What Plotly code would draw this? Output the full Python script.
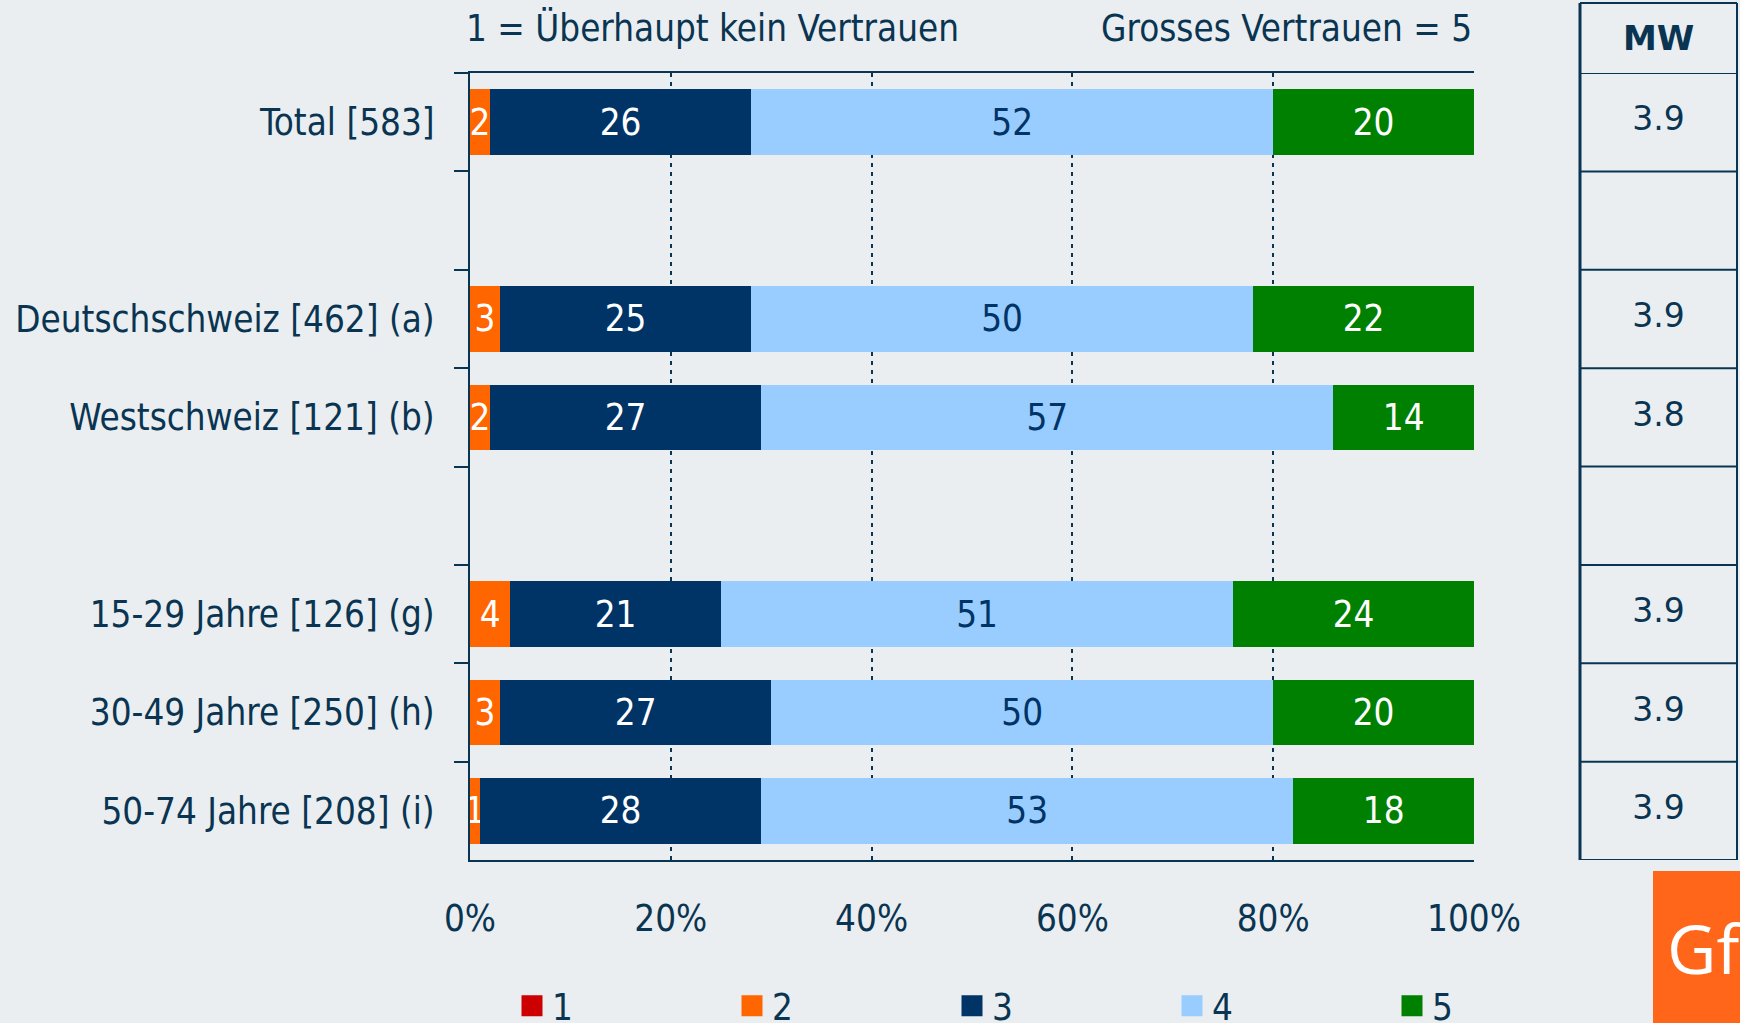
import plotly.graph_objects as go

# ---------------- data ----------------
categories = ["Total [583]", " ", "Deutschschweiz [462] (a)", "Westschweiz [121] (b)", "  ",
              "15-29 Jahre [126] (g)", "30-49 Jahre [250] (h)", "50-74 Jahre [208] (i)"]
rows = ["Total [583]", "Deutschschweiz [462] (a)", "Westschweiz [121] (b)",
        "15-29 Jahre [126] (g)", "30-49 Jahre [250] (h)", "50-74 Jahre [208] (i)"]
series_names = ["1", "2", "3", "4", "5"]
s1 = [0, 0, 0, 0, 0, 0]
s2 = [2, 3, 2, 4, 3, 1]
s3 = [26, 25, 27, 21, 27, 28]
s4 = [52, 50, 57, 51, 50, 53]
s5 = [20, 22, 14, 24, 20, 18]
mw_values = ["3.9", "3.9", "3.8", "3.9", "3.9", "3.9"]
x_ticks = [0, 20, 40, 60, 80, 100]
x_ticktext = ["0%", "20%", "40%", "60%", "80%", "100%"]
title_left = "1 = Überhaupt kein Vertrauen"
title_right = "Grosses Vertrauen = 5"
mw_header = "MW"

# ---------------- style ----------------
colors = ["#CC0000", "#FF6600", "#003366", "#99CCFF", "#008000"]
label_colors = ["white", "white", "white", "#003366", "white"]
NAVY = "#0A3552"
BG = "#EAEEF0"
FONT = "DejaVu Sans Condensed"
FS = 36.5

W, H = 1740, 1023
ML, MR, MT, MB = 470, 2, 73, 163
PW = W - ML - MR
PH = H - MT - MB

def px_to_paper_x(px):
    return (px - ML) / PW

def px_to_paper_y(py):
    return (H - MB - py) / PH

fig = go.Figure()

all_series = [s1, s2, s3, s4, s5]
for name, vals, col, lcol in zip(series_names, all_series, colors, label_colors):
    fig.add_trace(go.Bar(
        y=rows, x=vals, orientation="h", name=name,
        marker=dict(color=col, line=dict(width=0)),
        text=[str(v) if v else "" for v in vals],
        textposition="inside", insidetextanchor="middle", textangle=0,
        constraintext="none",
        insidetextfont=dict(family=FONT, size=FS, color=lcol),
        showlegend=False, hoverinfo="skip",
    ))
    # legend entry with larger square
    fig.add_trace(go.Scatter(
        x=[None], y=[None], mode="markers", name=name,
        marker=dict(symbol="square", size=16, color=col, line=dict(color=col, width=5)),
        showlegend=True, xaxis="x", yaxis="y",
    ))

# MW column as text trace on second x axis
fig.add_trace(go.Scatter(
    x=[0.5] * len(rows), y=rows, xaxis="x2", yaxis="y", mode="text",
    text=mw_values, textfont=dict(family="DejaVu Sans", size=33, color=NAVY),
    showlegend=False, hoverinfo="skip",
))

x_dom_end = (1474 - ML) / PW
x2_start = px_to_paper_x(1580)
x2_end = px_to_paper_x(1737)

fig.update_layout(
    width=W, height=H,
    margin=dict(l=ML, r=MR, t=MT, b=MB, pad=0, autoexpand=False),
    paper_bgcolor=BG, plot_bgcolor=BG,
    barmode="stack", bargap=0.334,
    font=dict(family=FONT, size=FS, color=NAVY),
    xaxis=dict(
        domain=[0, x_dom_end], range=[0, 100], tickvals=x_ticks, ticktext=x_ticktext,
        showline=True, linecolor=NAVY, linewidth=2, mirror=True,
        showgrid=True, gridcolor=NAVY, gridwidth=1.5, griddash="4px,5px",
        zeroline=False, ticks="", ticklabelstandoff=25,
        tickfont=dict(family=FONT, size=FS, color=NAVY), fixedrange=True,
    ),
    xaxis2=dict(domain=[x2_start, x2_end], range=[0, 1], visible=False, anchor="y"),
    yaxis=dict(
        type="category", categoryorder="array", categoryarray=categories,
        range=[len(categories) - 0.5, -0.5],
        showline=True, linecolor=NAVY, linewidth=2,
        ticks="outside", ticklen=14, tickwidth=2, tickcolor=NAVY, tickson="boundaries",
        showgrid=False, zeroline=False, ticklabelstandoff=26,
        tickfont=dict(family=FONT, size=FS, color=NAVY),
    ),
    legend=dict(
        orientation="h", traceorder="normal", x=px_to_paper_x(512), xanchor="left",
        y=px_to_paper_y(1006), yanchor="middle",
        entrywidth=175, entrywidthmode="pixels",
        font=dict(family=FONT, size=FS, color=NAVY), bgcolor="rgba(0,0,0,0)",
        itemclick=False, itemdoubleclick=False,
    ),
)

# titles
fig.add_annotation(text=title_left, xref="x domain", x=0, xanchor="left", xshift=-6,
                   yref="paper", y=px_to_paper_y(28), yanchor="middle", showarrow=False,
                   font=dict(family=FONT, size=FS, color=NAVY))
fig.add_annotation(text=title_right, xref="x domain", x=1, xanchor="right", xshift=0,
                   yref="paper", y=px_to_paper_y(28), yanchor="middle", showarrow=False,
                   font=dict(family=FONT, size=FS, color=NAVY))

# MW table
table_top = px_to_paper_y(3)
fig.add_annotation(text="<b>" + mw_header + "</b>", xref="x2 domain", x=0.5, xanchor="center",
                   yref="paper", y=px_to_paper_y(38), yanchor="middle", showarrow=False,
                   font=dict(family="DejaVu Sans", size=34, color=NAVY))
line_style = dict(color=NAVY, width=2)
fig.add_shape(type="line", xref="x2 domain", yref="paper", x0=0, x1=1, y0=table_top, y1=table_top, line=line_style)
fig.add_shape(type="line", xref="x2 domain", yref="paper", x0=0, x1=0, y0=0, y1=table_top, line=dict(color=NAVY, width=3))
fig.add_shape(type="line", xref="x2 domain", yref="paper", x0=1, x1=1, y0=0, y1=table_top, line=line_style)
for i in range(len(categories) + 1):
    fig.add_shape(type="line", xref="x2 domain", yref="y", x0=0, x1=1, y0=i - 0.5, y1=i - 0.5, line=line_style)

# logo
fig.add_shape(type="rect", xref="paper", yref="paper",
              x0=px_to_paper_x(1653), x1=px_to_paper_x(1760),
              y0=px_to_paper_y(871), y1=px_to_paper_y(1040),
              fillcolor="#FF6619", line=dict(width=0), layer="above")
fig.add_annotation(text="GfK", xref="paper", x=px_to_paper_x(1665), xanchor="left",
                   yref="paper", y=px_to_paper_y(947), yanchor="middle", showarrow=False,
                   font=dict(family="Open Sans", size=68, color="white"))

fig.write_html("out.html", config={"displayModeBar": False},
               post_script="document.body.style.margin='0';document.body.style.overflow='hidden';")
